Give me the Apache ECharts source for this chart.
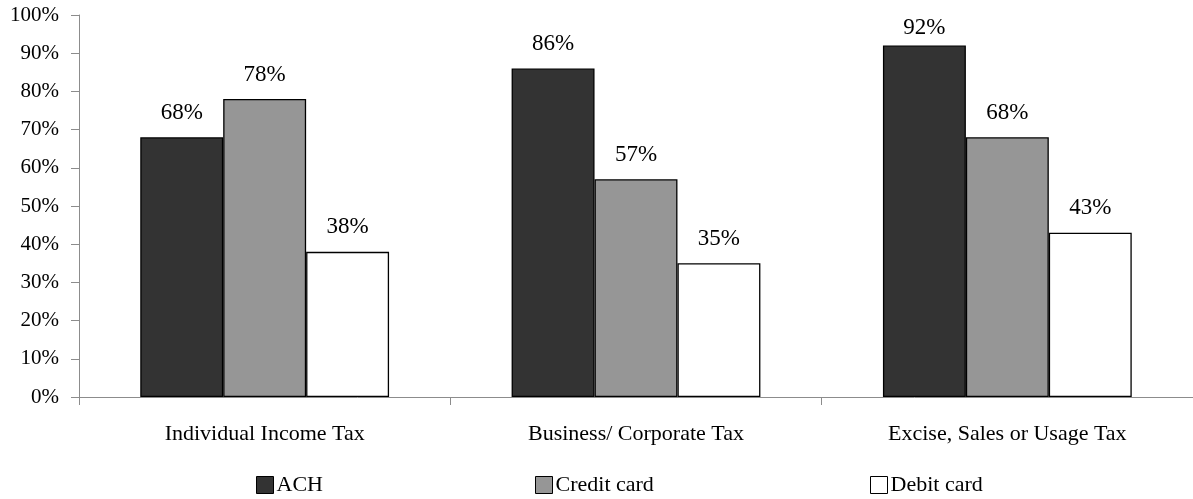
<!DOCTYPE html>
<html>
<head>
<meta charset="utf-8">
<script src="https://cdn.jsdelivr.net/npm/echarts@6/dist/echarts.min.js"></script>
<style>
  html, body { margin: 0; padding: 0; background: #fff; }
  #chart { width: 1193px; height: 499px; }
</style>
</head>
<body>
<div id="chart"></div>
<script>
// Payment method acceptance by tax type (percent of respondents)
const categories = ['Individual Income Tax', 'Business/ Corporate Tax', 'Excise, Sales or Usage Tax'];
const seriesNames = ['ACH', 'Credit card', 'Debit card'];
const achValues = [68, 86, 92];
const creditValues = [78, 57, 68];
const debitValues = [38, 35, 43];
const seriesColors = ['#333333', '#969696', '#ffffff'];
const legendLeft = [251, 530, 865];

const FONT = 'Liberation Serif, Times New Roman, serif';
const valueSets = [achValues, creditValues, debitValues];

const chart = echarts.init(document.getElementById('chart'));

// labels near the top edge are tucked closer to their bar so they stay inside the plot
const toItems = values => values.map(v => v > 90 ? { value: v, label: { distance: 6 } } : v);

const series = seriesNames.map((name, i) => ({
  name: name,
  type: 'bar',
  data: toItems(valueSets[i]),
  barGap: '0%',
  barCategoryGap: '33%',
  itemStyle: { color: seriesColors[i], borderColor: '#000', borderWidth: 1.3 },
  label: {
    show: true,
    position: 'top',
    distance: 13,
    formatter: '{c}%',
    color: '#000',
    fontFamily: FONT,
    fontSize: 23
  },
  emphasis: { disabled: true }
}));

const legends = seriesNames.map((name, i) => ({
  data: [name],
  left: legendLeft[i],
  top: 469,
  itemWidth: 17,
  itemHeight: 17,
  icon: 'rect',
  itemStyle: { borderColor: '#000', borderWidth: 1 },
  textStyle: { fontFamily: FONT, fontSize: 22, color: '#000', padding: [0, 0, 0, -2] },
  selectedMode: false
}));

chart.setOption({
  animation: false,
  backgroundColor: '#fff',
  legend: legends,
  grid: { left: 79, right: 0, top: 15, bottom: 102, containLabel: false },
  xAxis: {
    type: 'category',
    data: categories,
    axisLine: { lineStyle: { color: '#8c8c8c', width: 1 } },
    axisTick: { show: true, length: 8, lineStyle: { color: '#8c8c8c' } },
    axisLabel: { margin: 26, color: '#000', fontFamily: FONT, fontSize: 22 }
  },
  yAxis: {
    type: 'value',
    min: 0,
    max: 100,
    interval: 10,
    axisLine: { show: true, lineStyle: { color: '#8c8c8c', width: 1 } },
    axisTick: { show: true, length: 8, lineStyle: { color: '#8c8c8c' } },
    splitLine: { show: false },
    axisLabel: { formatter: '{value}%', margin: 20, color: '#000', fontFamily: FONT, fontSize: 21 }
  },
  series: series
});
</script>
</body>
</html>
